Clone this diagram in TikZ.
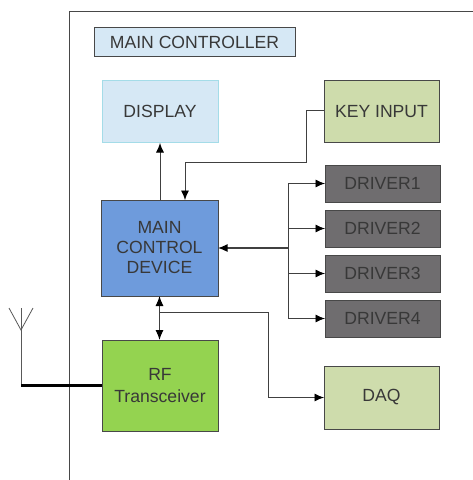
\documentclass[tikz,border=0pt]{standalone}
\usepackage{fontspec}
\setmainfont{Liberation Sans}
\usetikzlibrary{arrows.meta,calc}
\definecolor{lblue}{HTML}{D6E8F5}
\definecolor{dispedge}{HTML}{A4DCE8}
\definecolor{mblue}{HTML}{6E9BDC}
\definecolor{rfgreen}{HTML}{94D350}
\definecolor{sage}{HTML}{CEDCAC}
\definecolor{drv}{HTML}{6F6D6F}
\definecolor{txt}{HTML}{383838}
\definecolor{edge}{HTML}{484848}
\tikzset{
  x=1pt,y=-1pt,
  boxbase/.style={draw=edge,line width=0.9pt,inner sep=0pt,outer sep=0pt,align=center,text=txt,font=\fontsize{17.6}{20}\selectfont},
  titlebox/.style={boxbase,fill=lblue,minimum width=201pt,minimum height=29pt},
  dispbox/.style={boxbase,draw=dispedge,fill=lblue,minimum width=116pt,minimum height=62pt},
  mainbox/.style={boxbase,fill=mblue,minimum width=117pt,minimum height=96pt},
  rfbox/.style={boxbase,fill=rfgreen,minimum width=116pt,minimum height=91pt},
  sagebox/.style={boxbase,fill=sage,minimum width=115pt,minimum height=62pt},
  drvbox/.style={boxbase,fill=drv,minimum width=115pt,minimum height=37pt},
  conn/.style={draw=black!75,line width=0.9pt},
  arr/.style={conn,-{Latex[length=9.5pt,width=8pt,black]}},
  darr/.style={conn,line width=1.1pt,{Latex[length=10pt,width=8pt,black]}-{Latex[length=10pt,width=8pt,black]}},
  thick line/.style={draw=black,line width=2.2pt},
  ant/.style={draw=black!65,line width=0.8pt},
}
\begin{document}
\begin{tikzpicture}
\useasboundingbox (0,0) rectangle (473,480);
\fill[white] (0,0) rectangle (473,480);
\draw[edge,line width=0.9pt] (69,480) -- (69,11) -- (473,11);
\node[titlebox] (title) at (195,42) {\hspace*{-1pt}MAIN CONTROLLER};
\node[dispbox] (disp) at (160,111) {DISPLAY};
\node[mainbox] (main) at (159.5,248) {MAIN\\CONTROL\\DEVICE};
\node[rfbox] (rf) at (160,385.5) {RF\\[2pt]Transceiver};
\node[sagebox] (key) at (381.5,111.5) {KEY INPUT};
\node[sagebox,minimum height=63pt] (daq) at (381.5,397.5) {DAQ};
\node[drvbox] (d1) at (382.5,183.5) {DRIVER1};
\node[drvbox] (d2) at (382.5,228.5) {DRIVER2};
\node[drvbox] (d3) at (382.5,273.5) {DRIVER3};
\node[drvbox] (d4) at (382.5,318.5) {DRIVER4};
% connectors
\draw[arr] ($(main.north)+(0.5,0)$) -- ($(disp.south)+(0,1)$);
\coordinate (keya) at (306,110);
\coordinate (keyb) at (306,162);
\coordinate (keyc) at (185,162);
\draw[arr] (key.west |- keya) -- (keya) -- (keyb) -- (keyc) -- (keyc |- main.north);
\coordinate (spine) at (288,248);
\draw[arr,line width=1.3pt] (spine) -- (main.east);
\foreach \d in {d1,d2,d3,d4}{\draw[arr] (spine) -- (spine |- \d.west) -- (\d.west);}
\draw[darr] (main.south) -- (main.south |- rf.north);
\coordinate (daqa) at (268,312);
\draw[arr] (159.5,312) -- (daqa) -- (daqa |- daq.west) -- (daq.west);
% antenna
\coordinate (anttop) at (21,308);
\coordinate (antbase) at (21,330);
\coordinate (antfoot) at (21,385.5);
\coordinate (antl) at (9,308);
\coordinate (antr) at (33,308);
\draw[ant] (antfoot) -- (anttop);
\draw[ant] (antl) -- (antbase) -- (antr);
\draw[thick line] (antfoot) -- (rf.west);
\end{tikzpicture}
\end{document}
